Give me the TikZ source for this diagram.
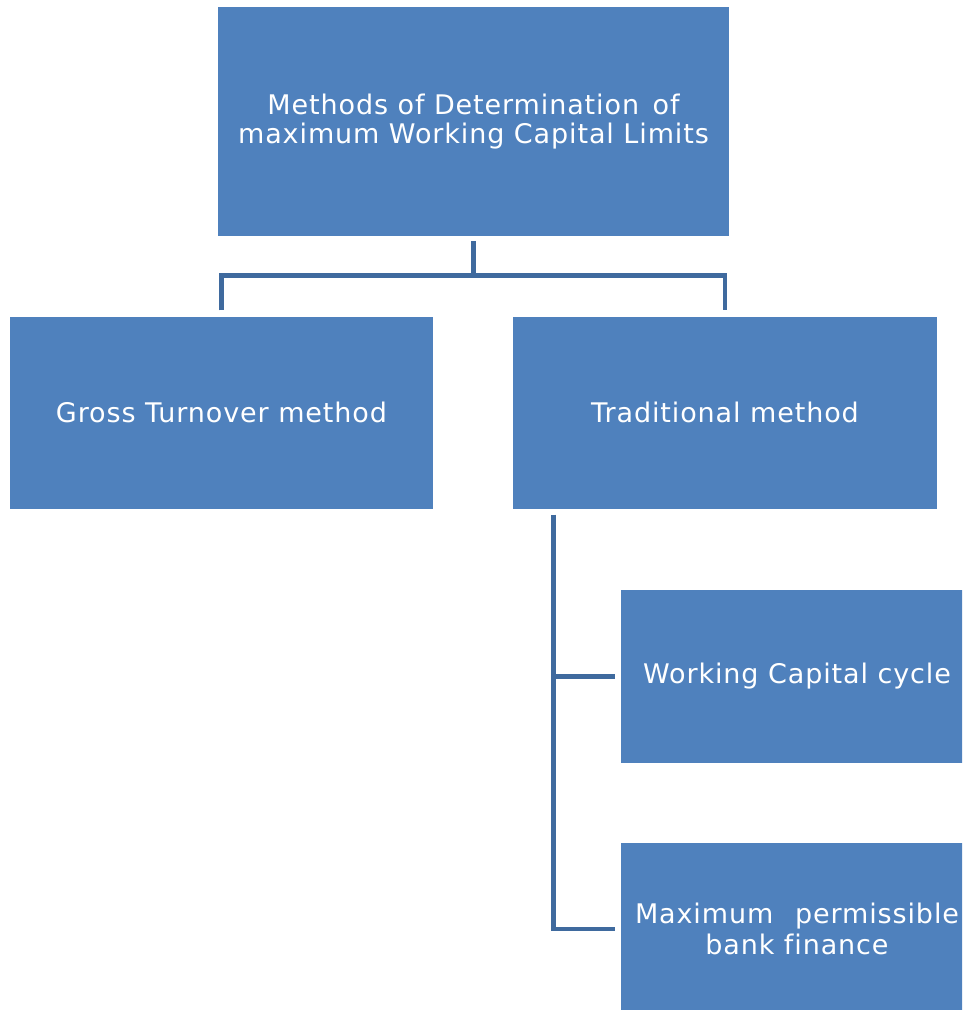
\documentclass[tikz,border=0pt]{standalone}
\usepackage{fontspec}
\setmainfont{DejaVu Sans}[LetterSpace=3.3, Ligatures=NoCommon]
\definecolor{boxblue}{HTML}{4F81BD}
\definecolor{linkblue}{HTML}{3F6A9E}
\begin{document}
\begin{tikzpicture}[x=1pt,y=-1pt,
  box/.style={fill=boxblue, draw=none, inner sep=0pt, text=white, align=center,
    font=\fontsize{27}{31}\selectfont},
  conn/.style={draw=linkblue, line width=4.8pt, line cap=butt, line join=miter}]
\useasboundingbox (0,0) rectangle (962,1010);
\begin{scope}
\clip (0,0) rectangle (962,1010);
% boxes
\node[box, minimum width=511pt, minimum height=229pt] (top) at (473.5,121.5)
  {\raisebox{-2pt}{Methods of Determination\hspace{0.15em} of}\\maximum Working Capital Limits};
\node[box, minimum width=423pt, minimum height=192pt] (gross) at (221.5,412.5)
  {Gross Turnover method};
\node[box, minimum width=424pt, minimum height=192pt] (trad) at (725,412.5)
  {Traditional method};
\node[box, minimum width=352pt, minimum height=173pt] (wc) at (797,676.5)
  {Working Capital cycle};
\node[box, minimum width=352pt, minimum height=173pt] (mpbf) at (797,929)
  {Maximum\hspace{0.45em} permissible\\bank finance};
\end{scope}
% connectors from the top box
\draw[conn] ([yshift=-5pt]top.south) -- ++(0,34);
\draw[conn] ([yshift=6pt]gross.north) |- ([yshift=41pt]trad.north) -- ([yshift=6pt]trad.north);
% connectors below the traditional method
\coordinate (v) at ([xshift=40.5pt,yshift=-6pt]trad.south west);
\draw[conn] (v) |- ([xshift=-6pt]mpbf.west);
\draw[conn] (wc.west -| v) -- ([xshift=-6pt]wc.west);
\end{tikzpicture}
\end{document}
